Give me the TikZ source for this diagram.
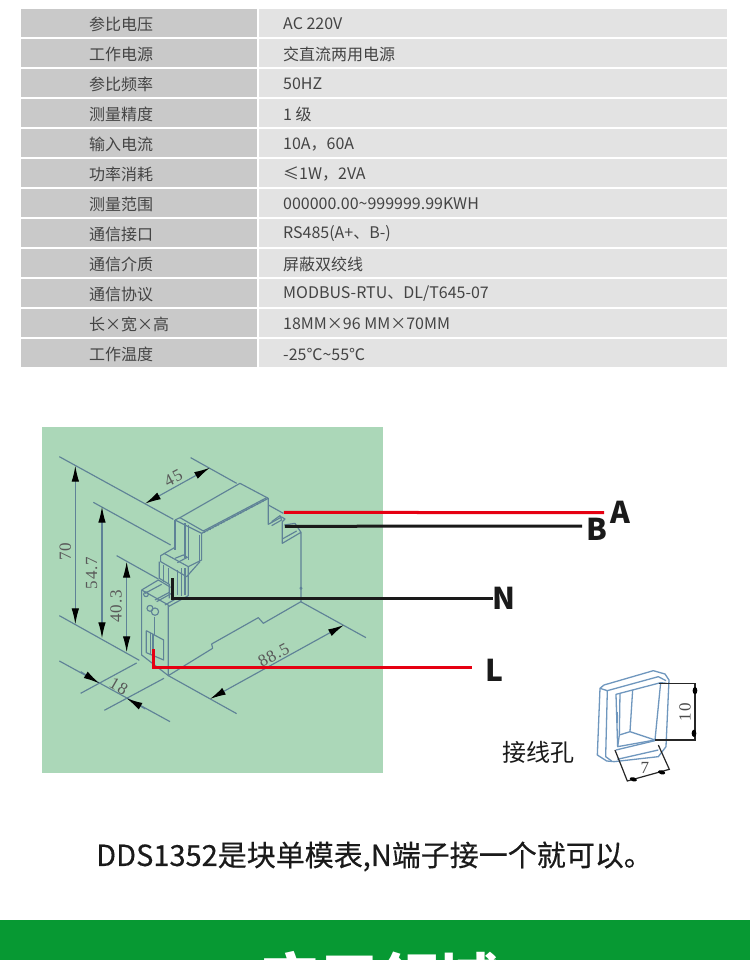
\documentclass[tikz,border=0pt]{standalone}
\usepackage{fontspec}
\setmainfont{Noto Sans CJK SC}
\newfontfamily\capfont[FakeBold=0.35]{Noto Sans CJK SC}
\newfontfamily\dimfont[LetterSpace=6]{Liberation Serif}
\usetikzlibrary{arrows.meta}
\definecolor{cellL}{HTML}{C9C9C9}
\definecolor{cellR}{HTML}{E3E3E3}
\definecolor{txtgray}{HTML}{444444}
\definecolor{panel}{HTML}{ABD7B8}
\definecolor{cad}{HTML}{5F8297}
\definecolor{capblue}{HTML}{6F97BE}
\definecolor{band}{HTML}{079933}
\definecolor{wirered}{HTML}{E60012}
\definecolor{wireblack}{HTML}{1A1A1A}
\tikzset{
  rowtext/.style={text=txtgray,font=\fontsize{16}{16}\selectfont,inner sep=0pt},
  cellbox/.style={inner sep=0pt,outer sep=0pt,minimum height=28pt},
  cadline/.style={draw=cad,line width=1.15pt,line join=round},
  dimtip/.style={draw=cad,line width=1.15pt,{Latex[length=16pt,width=7.5pt,black]}-{Latex[length=16pt,width=7.5pt,black]}},
  onetip/.style={draw=cad,line width=1.15pt,-{Latex[length=16pt,width=7.5pt,black]}},
  dimtext/.style={text=black!65,font=\dimfont\fontsize{17}{17}\selectfont,inner sep=0pt},
  wirestyle/.style={line width=3pt,line cap=butt,line join=miter},
  wirelabel/.style={text=wireblack,font=\bfseries\fontsize{30}{30}\selectfont,inner sep=0pt},
  capline/.style={draw=capblue,line width=1.3pt,line join=round},
  capdim/.style={draw=black!85,line width=1.2pt},
}
\begin{document}
\begin{tikzpicture}[x=1pt,y=-1pt]
\useasboundingbox (0,0) rectangle (750,960);
\fill[white] (0,0) rectangle (750,960);
% table
\foreach \i/\a/\b in {0/{参比电压}/{AC 220V},1/{工作电源}/{交直流两用电源},2/{参比频率}/{50HZ},3/{测量精度}/{1 级},4/{输入电流}/{10A，60A},5/{功率消耗}/{≤1W，2VA},6/{测量范围}/{000000.00\textasciitilde999999.99KWH},7/{通信接口}/{RS485(A+、B-)},8/{通信介质}/{屏蔽双绞线},9/{通信协议}/{MODBUS-RTU、DL/T645-07},10/{长×宽×高}/{18MM×96 MM×70MM},11/{工作温度}/{-25℃\textasciitilde55℃}}{
  \node[cellbox,fill=cellL,minimum width=236pt] (l\i) at (139,23+30*\i) {};
  \node[cellbox,fill=cellR,minimum width=468pt] (r\i) at (493,23+30*\i) {};
  \node[rowtext,anchor=west] (lt\i) at (89,24+30*\i) {\a};
  \node[rowtext,anchor=west] (rt\i) at (283,24+30*\i) {\b};
}
% panel
\node[fill=panel,inner sep=0pt,minimum width=341pt,minimum height=346pt] (panelbox) at (212.5,600) {};
% drawing in zoom coordinates
\begin{scope}[shift={(40,425)},x=0.3333pt,y=-0.3333pt]
  % extension lines
  \draw[cadline] (58,95)--(400,283);
  \draw[cadline] (160,232)--(392,360);
  \draw[cadline] (230,392)--(355,462);
  \draw[cadline] (58,572)--(298,706);
  \draw[cadline] (452,98)--(590,175);
  \draw[cadline] (685,240)--(730,265);
  \draw[cadline] (122,805)--(290,714);
  \draw[cadline] (193,856)--(372,760);
  \draw[cadline] (385,752)--(590,866);
  \draw[cadline] (782,530)--(978,638);
  \draw[cadline] (58,708)--(390,890);
  % dimensions
  \draw[dimtip] (106,122)--(106,598);
  \draw[dimtip] (186,245)--(186,640);
  \draw[dimtip] (260,410)--(260,682);
  \draw[dimtip] (315,236)--(510,128);
  \draw[dimtip] (510,822)--(912,600);
  \draw[onetip] (122,740)--(178,775);
  \draw[onetip] (316,852)--(260,820);
  \node[dimtext,rotate=90] (d70) at (76,380) {70};
  \node[dimtext,rotate=90] (d547) at (155,444) {54.7};
  \node[dimtext,rotate=90] (d403) at (228,544) {40.3};
  \node[dimtext,rotate=28] (d45) at (400,160) {45};
  \node[dimtext,rotate=-30] (d18) at (236,783) {18};
  \node[dimtext,rotate=28] (d885) at (701,690) {88.5};
  % housing
  \draw[cadline] (405,285)--(420,278)--(600,175)--(685,220)--(685,298)--(725,276)--(735,282)--(727,290)--(727,355)--(783,322)--(783,530)--(670,595)--(655,578)--(515,657)--(518,670)--(505,678)--(385,752)--(385,540);
  \draw[cadline] (405,285)--(405,375);
  \draw[cadline] (405,285)--(485,325)--(685,220);
  \draw[cadline] (420,278)--(490,318)--(680,218);
  \draw[cadline] (485,325)--(485,405)--(445,425);
  \draw[cadline] (478,330)--(478,410);
  \draw[cadline] (445,300)--(445,405);
  \draw[cadline] (435,295)--(435,400);
  \draw[cadline,dotted,line width=1.6pt] (492,322)--(680,222);
  % upper terminal step
  \draw[cadline] (405,367)--(362,392)--(362,410)--(440,455)--(480,410);
  \draw[cadline] (372,385)--(445,425);
  \draw[cadline] (405,400)--(430,390)--(442,397)--(412,413);
  \draw[cadline] (358,410)--(358,460)--(388,478)--(388,520);
  \draw[cadline] (370,420)--(370,470);
  \draw[cadline] (385,430)--(385,478);
  \draw[cadline] (412,435)--(412,510);
  \draw[cadline] (425,430)--(425,512);
  \draw[cadline] (435,430)--(435,510);
  \draw[cadline] (445,425)--(445,512)--(385,545);
  % lower terminal
  \draw[cadline] (305,495)--(305,690)--(385,752);
  \draw[cadline] (305,495)--(355,465)--(392,487);
  \draw[cadline] (315,505)--(365,478);
  \draw[cadline] (305,495)--(385,540);
  \draw[cadline] (345,525)--(388,502);
  \draw[cadline] (350,530)--(395,505);
  \draw[cadline] (375,540)--(410,520);
  \draw[cadline] (343,575)--(343,630);
  \draw[cadline] (330,550) circle[radius=9];
  \draw[cadline] (345,560) circle[radius=11];
  \draw[cadline] (318,508) circle[radius=7];
  % window
  \draw[cadline] (319,617)--(319,683)--(371,705)--(371,645)--(319,617);
  \draw[cadline] (332,625)--(332,690);
  \draw[cadline,line width=1.8pt] (340,628)--(340,695);
  % small detail at the right
  \draw[cadline] (695,290)--(720,272)--(725,285)--(695,302);
  \draw[cadline] (733,300)--(765,295)--(783,322);
  \draw[cadline] (727,342)--(770,318);
  \draw[cadline] (783,490) circle[radius=3];
  \coordinate (aStart) at (732,262.5);
  \coordinate (bStart) at (735,304);
\end{scope}
% wire labels
\node[wirelabel] (labA) at (620,512) {A};
\node[wirelabel] (labB) at (597,529) {B};
\node[wirelabel] (labN) at (503.5,598) {N};
\node[wirelabel] (labL) at (494.5,670) {L};
\coordinate (nTop) at (172,578);
\coordinate (lTop) at (153,649);
\coordinate (aEnd) at (604,512.5);
\coordinate (bEnd) at (582,526);
\coordinate (nEnd) at (493,598.5);
\coordinate (lEnd) at (472,667);
\draw[wirestyle,wirered] (aStart)--(aEnd);
\draw[wirestyle,wireblack] (bStart)--(bEnd);
\draw[wirestyle,wireblack] (nTop)--(nTop|-nEnd)--(nEnd);
\draw[wirestyle,wirered] (lTop)--(lTop|-lEnd)--(lEnd);
% inset
\begin{scope}[shift={(490,650)},x=0.3333pt,y=-0.3333pt]
  \draw[capline] (342,105)--(490,62)--(525,72)--(537,90)--(528,290)--(505,320)--(372,335)--(350,333)--(322,315)--(330,115)--cycle;
  \draw[capline] (352,122)--(505,80)--(528,92);
  \draw[capline] (330,115)--(352,122)--(347,320)--(365,333);
  \draw[capline] (378,133)--(512,98)--(495,270)--(383,290)--cycle;
  \draw[capline] (390,130)--(388,255)--(383,290);
  \draw[capline] (428,120)--(420,245);
  \draw[capline] (388,255)--(420,245)--(495,270);
  \draw[capline] (378,300)--(495,272);
  \draw[capline] (382,328)--(505,300);
  \draw[capline] (512,98)--(530,100);
  \draw[capline,line width=2.4pt] (381,185)--(381,220);
  \draw[capdim] (508,100)--(615,100)--(615,270)--(495,270);
  \fill (615,122) ellipse[x radius=7,y radius=11];
  \fill (612,250) ellipse[x radius=7,y radius=11];
  \draw[capdim] (375,300)--(412,393)--(538,358)--(505,285);
  \fill[rotate around={-16:(430,388)}] (430,388) ellipse[x radius=11,y radius=6];
  \fill[rotate around={-16:(515,367)}] (515,367) ellipse[x radius=11,y radius=6];
  \node[dimtext,rotate=90,text=black!70] (d10) at (585,187) {10};
  \node[dimtext,text=black!70] (d7) at (465,354) {7};
\end{scope}
\node[inner sep=0pt,text=wireblack,font=\fontsize{24}{24}\selectfont] (hole) at (538.5,752) {接线孔};
% caption
\node[inner sep=0pt,text=wireblack,font=\capfont\fontsize{29}{29}\selectfont] (caption) at (374.5,856.5) {DDS1352是块单模表,N端子接一个就可以。};
% band
\begin{scope}
  \clip (0,920) rectangle (750,960);
  \fill[band] (0,920) rectangle (750,960);
  \node[inner sep=0pt,text=white,font=\bfseries\fontsize{60}{60}\selectfont] (bandtext) at (378,981) {应用领域};
\end{scope}
\end{tikzpicture}
\end{document}
